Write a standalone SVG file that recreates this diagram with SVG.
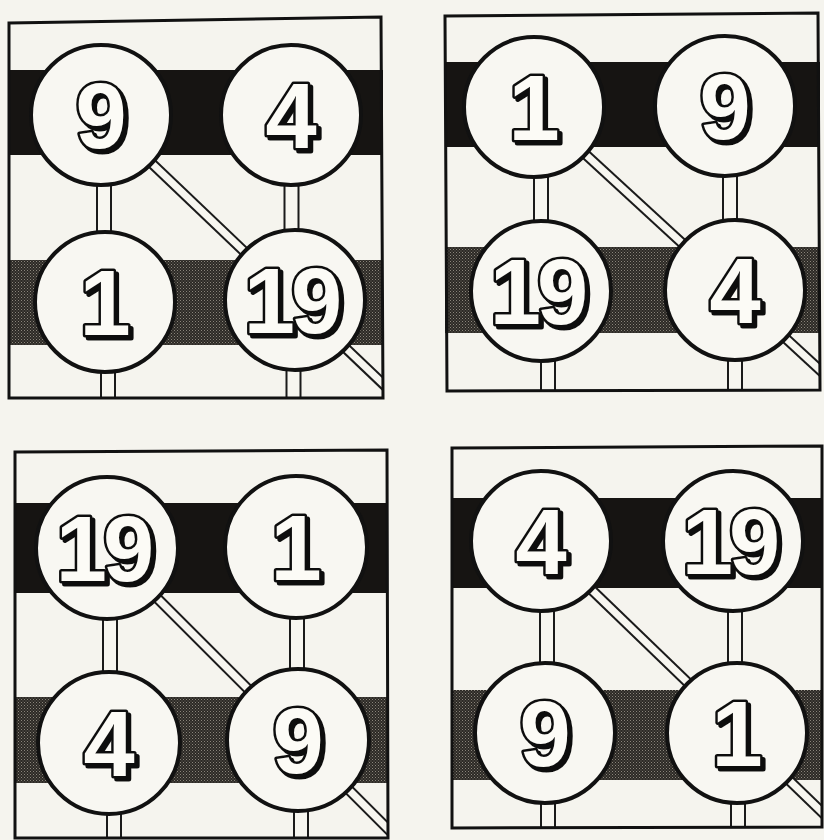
<svg xmlns="http://www.w3.org/2000/svg" width="824" height="840" viewBox="0 0 824 840">
<defs>
<pattern id="halftone" width="3" height="3" patternUnits="userSpaceOnUse">
<rect width="3" height="3" fill="#2c2925"/>
<rect x="0" y="0" width="1" height="1" fill="#8a857b"/>
<rect x="1.5" y="1.5" width="1" height="1" fill="#6e6a62"/>
</pattern>
<filter id="shadow" x="-20%" y="-20%" width="150%" height="150%">
<feOffset in="SourceAlpha" dx="3" dy="3" result="off"/>
<feFlood flood-color="#111"/>
<feComposite in2="off" operator="in" result="sh"/>
<feMerge><feMergeNode in="sh"/><feMergeNode in="SourceGraphic"/></feMerge>
</filter>
<clipPath id="c1"><polygon points="9,23 381,17 383,398 9,398"/></clipPath>
<clipPath id="c2"><polygon points="445,16 818,13 820,390 447,391"/></clipPath>
<clipPath id="c3"><polygon points="15,452 387,450 388,838 15,838"/></clipPath>
<clipPath id="c4"><polygon points="452,448 822,446 822,827 452,828"/></clipPath>
</defs>
<style>
.paper{fill:#f5f4ee}
.frame{fill:none;stroke:#111;stroke-width:3;stroke-linejoin:miter}
.bandA{fill:#161412}
.bandB{fill:url(#halftone)}
.cout{stroke:#1a1a1a;stroke-width:16;fill:none}
.cin{stroke:#f7f6f0;stroke-width:12;fill:none}
.dout{stroke:#1a1a1a;stroke-width:11;fill:none}
.din{stroke:#f7f6f0;stroke-width:7;fill:none}
.circ{fill:#f8f7f2;stroke:#111;stroke-width:4}
.num{font-family:"Liberation Sans",Arial,sans-serif;font-weight:bold;font-size:92px;text-anchor:middle;fill:#fcfbf6;stroke:#111;stroke-width:5;stroke-linejoin:round;paint-order:stroke;filter:url(#shadow)}
</style>
<rect class="paper" width="824" height="840"/>

<!-- Panel 1 -->
<g id="panel1">
<rect class="bandA" x="9" y="70" width="374" height="85"/>
<rect class="bandB" x="9" y="260" width="374" height="85"/>
<g id="p1-connectors" clip-path="url(#c1)">
<path class="cout" d="M104,115V302M108,302V410M291.5,115V300M293.5,300V410"/>
<path class="cin" d="M104,115V302M108,302V410M291.5,115V300M293.5,300V410"/>
<path class="dout" d="M101,115L421,420"/>
<path class="din" d="M101,115L421,420"/>
</g>
<g id="p1-n9"><circle class="circ" cx="101" cy="115" r="70"/><text class="num" x="101" y="148">9</text></g>
<g id="p1-n4"><circle class="circ" cx="291" cy="115" r="70"/><text class="num" x="291" y="148">4</text></g>
<g id="p1-n1"><circle class="circ" cx="105" cy="302" r="70"/><text class="num" x="105" y="335">1</text></g>
<g id="p1-n19"><circle class="circ" cx="295" cy="300" r="70"/><text class="num" x="293" y="333">1<tspan dx="-4">9</tspan></text></g>
<polygon class="frame" points="9,23 381,17 383,398 9,398"/>
</g>

<!-- Panel 2 -->
<g id="panel2">
<rect class="bandA" x="445" y="62" width="375" height="85"/>
<rect class="bandB" x="445" y="247" width="375" height="86"/>
<g id="p2-connectors" clip-path="url(#c2)">
<path class="cout" d="M541,107V291M548,291V400M730,106V290M735,290V400"/>
<path class="cin" d="M541,107V291M548,291V400M730,106V290M735,290V400"/>
<path class="dout" d="M534,107L844,392"/>
<path class="din" d="M534,107L844,392"/>
</g>
<g id="p2-n1"><circle class="circ" cx="534" cy="107" r="70"/><text class="num" x="534" y="140">1</text></g>
<g id="p2-n9"><circle class="circ" cx="725" cy="106" r="70"/><text class="num" x="725" y="139">9</text></g>
<g id="p2-n19"><circle class="circ" cx="541" cy="291" r="70"/><text class="num" x="539" y="324">1<tspan dx="-4">9</tspan></text></g>
<g id="p2-n4"><circle class="circ" cx="735" cy="290" r="70"/><text class="num" x="735" y="323">4</text></g>
<polygon class="frame" points="445,16 818,13 820,390 447,391"/>
</g>

<!-- Panel 3 -->
<g id="panel3">
<rect class="bandA" x="15" y="503" width="373" height="90"/>
<rect class="bandB" x="15" y="697" width="373" height="86"/>
<g id="p3-connectors" clip-path="url(#c3)">
<path class="cout" d="M110,548V743M114,743V850M297,547V740M301,740V850"/>
<path class="cin" d="M110,548V743M114,743V850M297,547V740M301,740V850"/>
<path class="dout" d="M107,548L407,848"/>
<path class="din" d="M107,548L407,848"/>
</g>
<g id="p3-n19"><circle class="circ" cx="107" cy="548" r="71"/><text class="num" x="105" y="581">1<tspan dx="-4">9</tspan></text></g>
<g id="p3-n1"><circle class="circ" cx="296" cy="547" r="71"/><text class="num" x="296" y="580">1</text></g>
<g id="p3-n4"><circle class="circ" cx="109" cy="743" r="71"/><text class="num" x="109" y="776">4</text></g>
<g id="p3-n9"><circle class="circ" cx="298" cy="740" r="71"/><text class="num" x="298" y="773">9</text></g>
<polygon class="frame" points="15,452 387,450 388,838 15,838"/>
</g>

<!-- Panel 4 -->
<g id="panel4">
<rect class="bandA" x="452" y="498" width="370" height="90"/>
<rect class="bandB" x="452" y="690" width="370" height="90"/>
<g id="p4-connectors" clip-path="url(#c4)">
<path class="cout" d="M547,541V733M548,733V840M735,541V733M738,733V840"/>
<path class="cin" d="M547,541V733M548,733V840M735,541V733M738,733V840"/>
<path class="dout" d="M541,541L851,840"/>
<path class="din" d="M541,541L851,840"/>
</g>
<g id="p4-n4"><circle class="circ" cx="541" cy="541" r="70"/><text class="num" x="541" y="574">4</text></g>
<g id="p4-n19"><circle class="circ" cx="733" cy="541" r="70"/><text class="num" x="731" y="574">1<tspan dx="-4">9</tspan></text></g>
<g id="p4-n9"><circle class="circ" cx="545" cy="733" r="70"/><text class="num" x="545" y="766">9</text></g>
<g id="p4-n1"><circle class="circ" cx="737" cy="733" r="70"/><text class="num" x="737" y="766">1</text></g>
<polygon class="frame" points="452,448 822,446 822,827 452,828"/>
</g>
</svg>
